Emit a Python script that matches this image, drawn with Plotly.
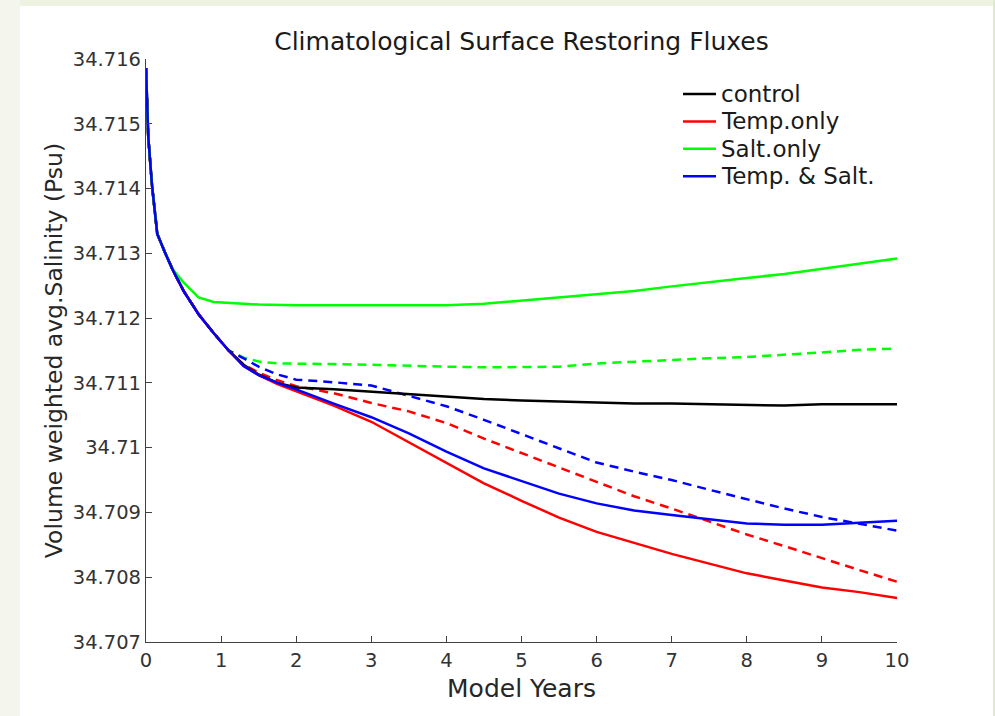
import plotly.graph_objects as go

years = [0, 0.03, 0.08, 0.15, 0.25, 0.35, 0.5, 0.7, 0.9, 1.1, 1.3, 1.5, 1.75, 2,
         2.5, 3, 3.5, 4, 4.5, 5, 5.5, 6, 6.5, 7, 7.5, 8, 8.5, 9, 9.5, 10]

# common spin-up part (years 0 .. 1.1)
common = [34.71586, 34.71480, 34.71405, 34.71330, 34.71302, 34.71276, 34.71242,
          34.71206, 34.71177, 34.71150]

control = common + [34.71128, 34.71113, 34.71100, 34.71093, 34.71090, 34.71086,
                    34.71082, 34.71078, 34.71075, 34.71073, 34.71071, 34.71070,
                    34.71068, 34.71068, 34.71067, 34.71067, 34.71065, 34.71067,
                    34.71067, 34.71067]
temp_only = common + [34.71126, 34.71112, 34.71098, 34.71087, 34.71065, 34.71040,
                      34.71008, 34.70976, 34.70945, 34.70918, 34.70892, 34.70870,
                      34.70853, 34.70836, 34.70821, 34.70806, 34.70795, 34.70784,
                      34.70777, 34.70768]
salt_only = common[:6] + [34.71255, 34.71232, 34.71225, 34.71223, 34.71222, 34.71221,
                          34.71220, 34.71220, 34.71220, 34.71220, 34.71219, 34.71220,
                          34.71222, 34.71227, 34.71231, 34.71236, 34.71242, 34.71249,
                          34.71256, 34.71262, 34.71268, 34.71276, 34.71284, 34.71292]
temp_salt = common + [34.71126, 34.71112, 34.71100, 34.71090, 34.71068, 34.71047,
                      34.71022, 34.70994, 34.70968, 34.70948, 34.70929, 34.70914,
                      34.70903, 34.70896, 34.70890, 34.70883, 34.70881, 34.70881,
                      34.70884, 34.70887]

temp_only_d = common + [34.71128, 34.71116, 34.71104, 34.71095, 34.71084, 34.71069,
                        34.71056, 34.71038, 34.71014, 34.70992, 34.70970, 34.70947,
                        34.70925, 34.70906, 34.70886, 34.70866, 34.70848, 34.70829,
                        34.70811, 34.70793]
salt_only_d = common + [34.71139, 34.71133, 34.71130, 34.71130, 34.71129, 34.71128,
                        34.71126, 34.71125, 34.71124, 34.71124, 34.71125, 34.71130,
                        34.71133, 34.71135, 34.71138, 34.71140, 34.71143, 34.71147,
                        34.71151, 34.71153]
temp_salt_d = common + [34.71138, 34.71125, 34.71113, 34.71105, 34.71101, 34.71096,
                        34.71080, 34.71064, 34.71043, 34.71021, 34.70998, 34.70977,
                        34.70963, 34.70950, 34.70935, 34.70920, 34.70906, 34.70893,
                        34.70883, 34.70872]

x_ticks = [0, 1, 2, 3, 4, 5, 6, 7, 8, 9, 10]
y_ticks = [34.707, 34.708, 34.709, 34.710, 34.711, 34.712, 34.713, 34.714, 34.715, 34.716]
y_ticktext = ["34.707", "34.708", "34.709", "34.71", "34.711", "34.712",
              "34.713", "34.714", "34.715", "34.716"]

legend_names = ["control", "Temp.only", "Salt.only", "Temp. & Salt."]
legend_colors = ["#000000", "#ff0000", "#00ff00", "#0000ff"]

fig = go.Figure()
LW = 2.5
DASH = "9px,6px"

for vals, col in [(temp_only_d, "#ff0000"), (salt_only_d, "#00ff00"), (temp_salt_d, "#0000ff")]:
    fig.add_trace(go.Scatter(x=years, y=vals, mode="lines", showlegend=False,
                             line=dict(color=col, width=LW, dash=DASH)))

for vals, col, name in zip([control, temp_only, salt_only, temp_salt], legend_colors, legend_names):
    fig.add_trace(go.Scatter(x=years, y=vals, mode="lines", name=name, showlegend=False,
                             line=dict(color=col, width=LW)))

# manual legend (paper coordinates)
PW, PH = 751.0, 583.0
def px_x(p):
    return (p - 146) / PW
def px_y(p):
    return (642 - p) / PH

shapes = [
    dict(type="rect", xref="paper", yref="paper", x0=px_x(20), x1=px_x(993),
         y0=px_y(720), y1=px_y(6), fillcolor="#ffffff", line=dict(width=0), layer="below"),
    dict(type="rect", xref="paper", yref="paper", x0=px_x(-5), x1=px_x(20),
         y0=px_y(720), y1=px_y(-5), fillcolor="#f4f6ee", line=dict(width=0), layer="below"),
    dict(type="rect", xref="paper", yref="paper", x0=px_x(993), x1=px_x(1000),
         y0=px_y(720), y1=px_y(-5), fillcolor="#e0eaca", line=dict(width=0), layer="below"),
]
annotations = []
for i, (name, col) in enumerate(zip(legend_names, legend_colors)):
    yc = 94 + i * 27.4
    shapes.append(dict(type="line", xref="paper", yref="paper", x0=px_x(683), x1=px_x(716),
                       y0=px_y(yc), y1=px_y(yc), line=dict(color=col, width=2.5)))
    annotations.append(dict(text=name, xref="paper", yref="paper", x=px_x(719), y=px_y(yc),
                            xanchor="left", yanchor="middle", showarrow=False,
                            font=dict(family="DejaVu Sans", size=23, color="#1a1a1a")))

axcol = "#404040"
fig.update_layout(
    width=995, height=716,
    margin=dict(l=146, r=98, t=59, b=74),
    paper_bgcolor="#eef2e1",
    plot_bgcolor="#ffffff",
    showlegend=False,
    font=dict(family="DejaVu Sans", color="#262626"),
    title=dict(text="Climatological Surface Restoring Fluxes", xref="paper", x=0.5,
               xanchor="center", y=0.942, yanchor="middle",
               font=dict(size=25, color="#1a1a1a")),
    xaxis=dict(range=[0, 10], tickvals=x_ticks, showgrid=False, zeroline=False,
               showline=True, linecolor=axcol, linewidth=1.2, ticks="inside",
               ticklen=6, tickcolor=axcol, tickfont=dict(size=19.5, color="#333333"),
               title=dict(text="Model Years", font=dict(size=25, color="#262626"), standoff=8)),
    yaxis=dict(range=[34.707, 34.716], tickvals=y_ticks, ticktext=y_ticktext,
               showgrid=False, zeroline=False, showline=True, linecolor=axcol,
               linewidth=1.2, ticks="inside", ticklen=6, tickcolor=axcol,
               tickfont=dict(size=19.5, color="#333333"),
               title=dict(text="Volume weighted avg.Salinity (Psu)",
                          font=dict(size=23.5, color="#262626"), standoff=3)),
    shapes=shapes,
    annotations=annotations,
)

fig.write_html("out.html")
